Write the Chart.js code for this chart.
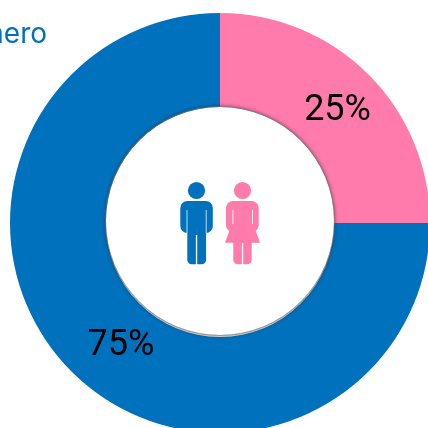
<!DOCTYPE html>
<html><head><meta charset="utf-8">
<style>html,body{margin:0;padding:0;width:428px;height:428px;overflow:hidden;background:#fff}
#w{position:absolute;left:0;top:0;width:440px;height:446px}</style>
<script src="https://cdn.jsdelivr.net/npm/chart.js@4"></script></head>
<body><div id="w"><canvas id="c" width="440" height="446"></canvas></div>
<script>
const categories = ['Mujeres', 'Hombres'];
const shares = [25, 75];
const sliceColors = ['#FF7BAC', '#0071BC'];
const labelOffsets = [[3, 2.5], [15.5, 8.5]];
const titleText = 'Género';

function drawMan(ctx) {
  const blue = sliceColors[1];
  ctx.fillStyle = blue;
  ctx.beginPath(); ctx.arc(196.5, 190.5, 8.6, 0, 7); ctx.fill();
  ctx.beginPath(); ctx.roundRect(180.3, 201, 32.5, 32, [7, 7, 7, 7]); ctx.fill();
  ctx.beginPath(); ctx.roundRect(187.3, 225, 18.8, 39.2, [0, 0, 4.5, 4.5]); ctx.fill();
  ctx.fillStyle = '#fff';
  ctx.fillRect(195.9, 235, 1.3, 30);
  ctx.fillStyle = 'rgba(255,255,255,0.75)';
  ctx.fillRect(186.5, 210, 1, 23);
  ctx.fillRect(205.7, 210, 1, 23);
}
function drawWoman(ctx) {
  const pink = sliceColors[0];
  ctx.fillStyle = pink;
  ctx.beginPath(); ctx.arc(242.5, 190.5, 8.6, 0, 7); ctx.fill();
  ctx.beginPath(); ctx.roundRect(226, 201, 32.7, 31, [7, 7, 7, 7]); ctx.fill();
  ctx.beginPath(); ctx.moveTo(231, 226); ctx.lineTo(254, 226); ctx.lineTo(260, 242.8); ctx.lineTo(225, 242.8); ctx.closePath(); ctx.fill();
  ctx.beginPath(); ctx.roundRect(233.3, 240, 18.4, 24.2, [0, 0, 4.5, 4.5]); ctx.fill();
  ctx.fillStyle = '#fff';
  ctx.fillRect(241.9, 243, 1.3, 22);
  ctx.fillStyle = 'rgba(255,255,255,0.85)';
  ctx.fillRect(232.4, 210, 1, 14);
  ctx.fillRect(252, 210, 1, 14);
}

const overlay = {
  id: 'overlay',
  afterDatasetsDraw(chart) {
    const ctx = chart.ctx;
    const arcs = chart.getDatasetMeta(0).data;
    const a = arcs[0];
    ctx.save();
    ctx.fillStyle = '#fff';
    ctx.shadowColor = 'rgba(40,40,40,0.9)';
    ctx.shadowBlur = 4;
    ctx.beginPath(); ctx.arc(a.x, a.y - 2, 114, 0, Math.PI * 2); ctx.fill();
    ctx.shadowColor = 'transparent';
    ctx.strokeStyle = 'rgba(130,130,130,0.55)';
    ctx.lineWidth = 1;
    ctx.beginPath(); ctx.arc(a.x, a.y - 2, 114.5, 0, Math.PI * 2); ctx.stroke();
    ctx.restore();

    ctx.save();
    drawMan(ctx); drawWoman(ctx);
    ctx.restore();

    ctx.save();
    ctx.fillStyle = '#000';
    ctx.font = '36px Roboto, sans-serif';
    ctx.textAlign = 'center'; ctx.textBaseline = 'middle';
    arcs.forEach((arc, i) => {
      const p = arc.getCenterPoint();
      ctx.fillText(shares[i] + '%', p.x + labelOffsets[i][0], p.y + labelOffsets[i][1]);
    });
    ctx.fillStyle = sliceColors[1];
    ctx.font = '28px Inter, sans-serif';
    ctx.textAlign = 'right'; ctx.textBaseline = 'alphabetic';
    ctx.fillText(titleText, 47, 43);
    ctx.restore();
  }
};

new Chart(document.getElementById('c'), {
  type: 'doughnut',
  data: { labels: categories, datasets: [{ data: shares, backgroundColor: sliceColors, borderWidth: 0 }] },
  options: {
    responsive: false, animation: false, cutout: 114,
    layout: { padding: 10 },
    plugins: { legend: { display: false }, tooltip: { enabled: false } }
  },
  plugins: [overlay]
});
</script></body></html>
